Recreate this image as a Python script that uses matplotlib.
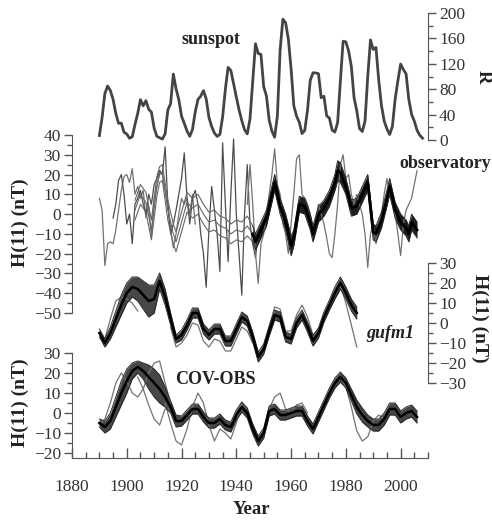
import numpy as np
import matplotlib
matplotlib.use("Agg")
import matplotlib.pyplot as plt
from matplotlib.ticker import MultipleLocator

plt.rcParams["font.family"] = ["Liberation Serif", "DejaVu Serif"]

# ---- sunspot number (yearly) ----
sun_years = np.arange(1890, 2009)
sun_r = [7.1, 35.6, 73.0, 85.1, 78.0, 64.0, 41.8, 26.2, 26.7, 12.1,
         9.5, 2.7, 5.0, 24.4, 42.0, 63.5, 53.8, 62.0, 48.5, 43.9,
         18.6, 5.7, 3.6, 1.4, 9.6, 47.4, 57.1, 103.9, 80.6, 63.6,
         37.6, 26.1, 14.2, 5.8, 16.7, 44.3, 63.9, 69.0, 77.8, 64.9,
         35.7, 21.2, 11.1, 5.7, 8.7, 36.1, 79.7, 114.4, 109.6, 88.8,
         67.8, 47.5, 30.6, 16.3, 9.6, 33.2, 92.6, 151.6, 136.3, 134.7,
         83.9, 69.4, 31.5, 13.9, 4.4, 38.0, 141.7, 190.2, 184.8, 159.0,
         112.3, 53.9, 37.6, 27.9, 10.2, 15.1, 47.0, 93.8, 105.9, 105.5,
         104.5, 66.6, 68.9, 38.0, 34.5, 15.5, 12.6, 27.5, 92.5, 155.4,
         154.6, 140.4, 115.9, 66.6, 45.9, 17.9, 13.4, 29.4, 100.2, 157.6,
         142.6, 145.7, 94.3, 54.6, 29.9, 17.5, 8.6, 21.5, 64.3, 93.3,
         119.6, 111.0, 104.0, 63.7, 40.4, 29.8, 15.2, 7.5, 2.9]

# ---- observatory H(11): ensemble centre and half-spread ----
obs_years = [1903, 1905, 1907, 1909, 1911, 1912, 1913, 1915, 1917, 1918,
             1920, 1922, 1924, 1926, 1928, 1930, 1932, 1934, 1936, 1938,
             1940, 1942, 1944, 1946, 1947, 1949, 1951, 1953, 1954, 1956,
             1958, 1960, 1961, 1963, 1965, 1967, 1968, 1970, 1972, 1974,
             1976, 1977, 1978, 1980, 1982, 1984, 1986, 1988, 1990, 1991,
             1993, 1995, 1996, 1998, 2000, 2002, 2003, 2004, 2006]
obs_center = [2, 10, 6, -8, 14, 20, 21, 2, -10, -14,
              -4, 6, 3, 5, 0, -4, -3, -6, -7, -10,
              -8, -9, -6, -10, -14, -8, -2, 10, 16, 4,
              -4, -16, -12, 5, 4, -4, -10, 0, 3, 8,
              16, 22, 21, 14, 3, 4, 10, 16, -9, -10,
              -3, 8, 14, 2, -4, -7, -10, -4, -8]
obs_spread = [5, 5, 5, 5, 5, 4, 4, 5, 5, 5,
              5, 5, 5, 5, 5, 5, 5, 5, 5, 5,
              5, 5, 5, 4, 4, 4, 4, 4, 4, 4,
              4, 5, 4, 4, 4, 4, 4, 4, 4, 4,
              4, 5, 5, 4, 4, 4, 4, 4, 4, 4,
              4, 4, 4, 4, 4, 4, 4, 4, 4]
# single noisy observatory records
obs_a_years = np.arange(1890, 1926)
obs_a = [8, 2, -26, -15, -14, -15, -8, 2, 12, 19,
         20, 16, 23, 10, 14, 8, 12, -2, 4, -12,
         8, 14, 22, 20, 12, 5, -8, -17, -10, 0,
         8, 5, 8, 0, 10, -5]
obs_b_years = np.arange(1895, 1949)
obs_b = [-2, 5, 17, 20, 10, -5, 0, -15, 5, 8,
         12, 5, 0, 10, 5, 15, 18, 22, 20, 34,
         5, -10, -5, 2, 10, 18, 31, 8, -5, 8,
         12, 5, -10, -20, -37, -8, 14, 2, -10, -29,
         36, 5, -24, 10, 38, 0, -20, -41, 0, 25,
         -5, -15, -22, -10]
obs_c_years = np.arange(1944, 2007)
obs_c = [5, 25, 5, -20, -35, -15, -10, 0, 10, 20,
         33, 15, 10, -5, -10, -20, -5, 10, 28, 30,
         10, 8, 5, 0, -10, -5, 5, 0, -5, -12,
         -20, -22, -10, 5, 25, 30, 18, 20, 10, 5,
         10, 5, 0, -10, -27, -10, -5, -15, -5, 0,
         10, 18, 10, 5, 0, -10, -21, -5, 2, 5,
         8, 15, 22]

# ---- gufm1 ----
gufm_years = np.arange(1890, 1985, 2)
gufm_center = [-5, -10, -5, 2, 9, 15, 18, 17, 14, 11,
               12, 21, 13, 2, -8, -6, -1, 5, 5, -3,
               -6, -3, -3, -9, -9, -3, 3, 1, -7, -17,
               -13, -4, 4, 3, -7, -8, 0, 4, -2, -9,
               -5, 3, 9, 15, 20, 15, 9, 5]
gufm_spread = [2, 2, 3, 4, 5, 5, 5, 6, 7, 8,
               7, 4, 4, 3, 2, 2.5, 2.5, 2.5, 2.5, 2.5,
               2.5, 2.5, 2.5, 2.5, 2.5, 2.5, 2.5, 2.5, 2.5, 2.5,
               2.5, 2.5, 2.5, 2.5, 2.5, 2.5, 2.5, 2.5, 2.5, 2.5,
               2.5, 2.5, 2.5, 3, 3, 3, 3, 3]
gufm_early_years = np.arange(1892, 1905, 2)
gufm_early = [-8, 2, 11, 13, 12, 10, 6]
gufm_low_years = np.arange(1916, 1947, 2)
gufm_low = [-2, -12, -10, -6, 0, -1, -9, -12, -8, -9, -14, -14, -8, -2, -4, -10]
gufm_high_years = np.arange(1950, 1971, 2)
gufm_high = [-12, -2, 8, 7, -4, -4, 4, 9, 3, -6, -3]
gufm_end_years = np.arange(1976, 1985, 2)
gufm_end = [15, 19, 10, -1, -12]

# ---- COV-OBS ----
cov_years = np.arange(1890, 2007, 2)
cov_center = [-5, -7, -4, 3, 10, 16, 21, 23, 21, 18,
              15, 12, 8, 3, -4, -4, -1, 2, 2, -2,
              -5, -5, -3, -6, -7, -1, 3, 0, -8, -14,
              -10, 1, 2, -1, -1, 0, 1, 1, -4, -8,
              -2, 4, 10, 15, 18, 15, 9, 3, -1, -4,
              -6, -6, -3, 2, 2, -2, 0, 1, -2]
cov_spread = [2, 3, 4, 5, 6, 6, 4, 3, 4, 6,
              7, 7, 5, 3, 3, 2.5, 2.5, 2.5, 2.5, 2.5,
              2.5, 2.5, 2.5, 2.5, 2.5, 2.5, 2.5, 2.5, 2.5, 2.5,
              2.5, 2.5, 2.5, 2.5, 2.5, 2.5, 2.5, 2.5, 2.5, 2.5,
              2.5, 2.5, 2.5, 2.5, 2.5, 2.5, 3, 3.5, 3.5, 3,
              3, 3, 3, 3, 3, 3, 3, 3, 3]
cov_hi_years = np.arange(1890, 1917, 2)
cov_hi = [-6, -3, 5, 15, 20, 16, 10, 8, 12, 20, 25, 26, 15, 5]
cov_lo_years = np.arange(1904, 1917, 2)
cov_lo = [18, 12, 4, -3, -6, 2, 2]
cov_wild_years = np.arange(1914, 1945, 2)
cov_wild = [5, -5, -14, -16, -8, 3, 10, 5, -6, -14, -8, -10, -13, -5, 5, 2]
cov_mid_years = np.arange(1950, 1967, 2)
cov_mid = [-10, 2, 8, 10, 2, 0, 4, 5, 0]
cov_80s_years = np.arange(1978, 1995, 2)
cov_80s = [18, 13, 3, -9, -14, -12, -4, -1, -3]

W, H = 492, 522
AX_COLOR = "#555555"
TXT_COLOR = "#333333"


def add_panel(fig, top_px, bottom_px):
    ax = fig.add_axes([72 / W, 1 - bottom_px / H, (428 - 72) / W,
                       (bottom_px - top_px) / H])
    ax.patch.set_alpha(0)
    for s in ax.spines.values():
        s.set_visible(False)
    ax.set_xlim(1880, 2010)
    ax.set_xticks([])
    return ax


def style_y(ax, side, major, minor):
    ax.spines[side].set_visible(True)
    ax.spines[side].set_color(AX_COLOR)
    ax.yaxis.set_ticks_position(side)
    ax.yaxis.set_major_locator(MultipleLocator(major))
    ax.yaxis.set_minor_locator(MultipleLocator(minor))
    ax.tick_params(axis="y", which="major", direction="out", length=6,
                   width=1, color=AX_COLOR, labelcolor=TXT_COLOR,
                   labelsize=12.5, pad=2)
    ax.tick_params(axis="y", which="minor", direction="out", length=3.5,
                   width=1, color=AX_COLOR)


def draw_band(ax, years, center, spread, fill="0.28", lw=1.8):
    c = np.array(center, dtype=float)
    s = np.array(spread, dtype=float)
    ax.fill_between(years, c - s, c + s, color=fill, lw=0)
    ax.plot(years, c - s, color="0.15", lw=0.7)
    ax.plot(years, c + s, color="0.15", lw=0.7)
    ax.plot(years, c, color="black", lw=lw)


def thin(ax, x, y, color="0.45", lw=0.9):
    ax.plot(x, y, color=color, lw=lw)


fig = plt.figure(figsize=(W / 100, H / 100), dpi=100)

# sunspot
ax_s = add_panel(fig, 13, 140)
ax_s.set_ylim(0, 200)
style_y(ax_s, "right", 40, 20)
ax_s.plot(sun_years, sun_r, color="#444444", lw=2, clip_on=False)

# observatory
ax_o = add_panel(fig, 135, 313)
ax_o.set_ylim(-50, 40)
style_y(ax_o, "left", 10, 5)
thin(ax_o, obs_a_years, obs_a)
thin(ax_o, obs_b_years, obs_b, color="0.3", lw=0.9)
thin(ax_o, obs_c_years, obs_c)
split = obs_years.index(1946)
c_early = np.array(obs_center[:split + 1], dtype=float)
s_early = np.array(obs_spread[:split + 1], dtype=float)
for c in (c_early - s_early, c_early, c_early + s_early):
    ax_o.plot(obs_years[:split + 1], c, color="0.4", lw=0.8)
draw_band(ax_o, obs_years[split:], obs_center[split:], obs_spread[split:],
          fill="0.12", lw=2)

# gufm1
ax_g = add_panel(fig, 263, 383)
ax_g.set_ylim(-30, 30)
style_y(ax_g, "right", 10, 5)
thin(ax_g, gufm_early_years, gufm_early)
thin(ax_g, gufm_low_years, gufm_low)
thin(ax_g, gufm_high_years, gufm_high)
thin(ax_g, gufm_end_years, gufm_end)
draw_band(ax_g, gufm_years, gufm_center, gufm_spread)

# COV-OBS
ax_c = add_panel(fig, 353, 458)
ax_c.set_ylim(-22.5, 30)
style_y(ax_c, "left", 10, 5)
ax_c.spines["bottom"].set_visible(True)
ax_c.spines["bottom"].set_color(AX_COLOR)
ax_c.xaxis.set_ticks_position("bottom")
ax_c.set_xticks(np.arange(1880, 2001, 20))
ax_c.xaxis.set_minor_locator(MultipleLocator(5))
ax_c.tick_params(axis="x", which="major", direction="in", length=7,
                 width=1, color=AX_COLOR, labelcolor=TXT_COLOR,
                 labelsize=12.5, pad=15)
ax_c.tick_params(axis="x", which="minor", direction="in", length=4,
                 width=1, color=AX_COLOR)
thin(ax_c, cov_hi_years, cov_hi)
thin(ax_c, cov_lo_years, cov_lo)
thin(ax_c, cov_wild_years, cov_wild)
thin(ax_c, cov_mid_years, cov_mid)
thin(ax_c, cov_80s_years, cov_80s)
draw_band(ax_c, cov_years, cov_center, cov_spread)

# labels
bold = dict(fontweight="bold", color="#222222")
fig.text(211 / W, 1 - 39 / H, "sunspot", ha="center", va="center",
         fontsize=13, **bold)
fig.text(445 / W, 1 - 163 / H, "observatory", ha="center", va="center",
         fontsize=13, **bold)
fig.text(390 / W, 1 - 333 / H, "gufm1", ha="center", va="center",
         fontsize=13, style="italic", **bold)
fig.text(215 / W, 1 - 380 / H, "COV-OBS", ha="center", va="center",
         fontsize=13, **bold)
fig.text(251 / W, 1 - 510 / H, "Year", ha="center", va="center",
         fontsize=13.5, **bold)
fig.text(483 / W, 1 - 77 / H, "R", ha="center", va="center",
         fontsize=13.5, rotation=270, **bold)
fig.text(20 / W, 1 - 223 / H, "H(11) (nT)", ha="center", va="center",
         fontsize=14, rotation=90, **bold)
fig.text(20 / W, 1 - 403 / H, "H(11) (nT)", ha="center", va="center",
         fontsize=14, rotation=90, **bold)
fig.text(480 / W, 1 - 318 / H, "H(11) (nT)", ha="center", va="center",
         fontsize=14, rotation=270, **bold)

fig.savefig("out.png", dpi=100)
